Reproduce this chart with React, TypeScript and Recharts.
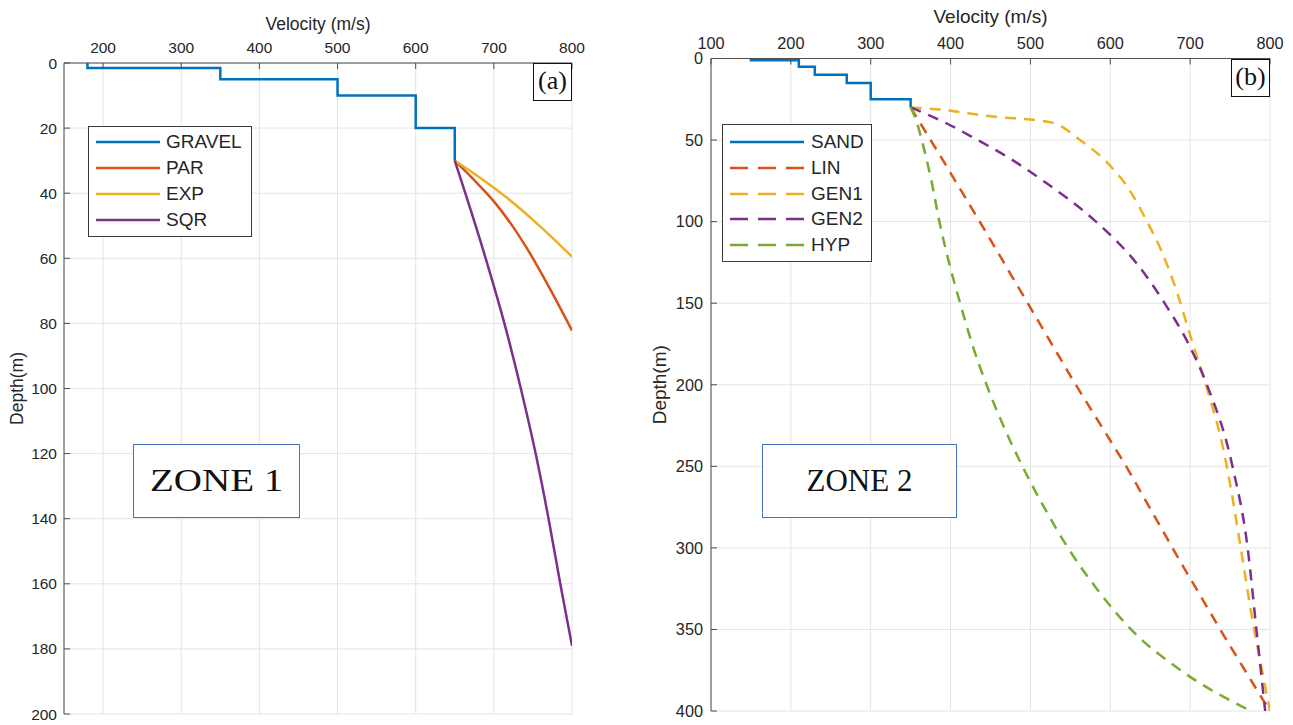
import React from 'react';
import { LineChart, Line, XAxis, YAxis, CartesianGrid, Legend } from 'recharts';

// ---- Zone 1 (a) ----
const gravelVel = [180, 350, 500, 600, 650, 650];
const gravelDepth = [0, 1.5, 5, 10, 20, 30];
const parVel = [650, 675, 700, 725, 750, 775, 800];
const parDepth = [30, 36, 42.5, 50.5, 60, 70.8, 82.2];
const expVel = [650, 675, 700, 725, 750, 775, 800];
const expDepth = [30, 34, 38.3, 43, 48.2, 53.7, 59.5];
const sqrVel = [650, 663.5, 689.5, 713.5, 734.5, 753.5, 770, 785, 800];
const sqrDepth = [30, 40, 60, 80, 100, 120, 140, 160, 179];

const zone1VelTicks = [200, 300, 400, 500, 600, 700, 800];
const zone1DepthTicks = [0, 20, 40, 60, 80, 100, 120, 140, 160, 180, 200];

// ---- Zone 2 (b) ----
const sandVel = [150, 210, 230, 270, 300, 350, 350];
const sandDepth = [0, 1, 5, 10, 15, 25, 30];
const linVel = [350, 390, 445, 499, 553, 620, 686, 740, 786, 800];
const linDepth = [30, 62, 107, 152, 197, 250, 307, 352, 389, 400];
const gen1Vel = [350, 386, 453, 515, 530, 561, 599, 624, 645, 665, 684, 699, 724, 740, 753, 761, 765, 778, 790, 800];
const gen1Depth = [30, 31.3, 35.6, 38.3, 39.6, 49.5, 65.3, 80.6, 99, 119, 144, 168, 207, 236, 269, 293, 305, 344, 375, 400];
const gen2Vel = [350, 396, 434, 470, 516, 582, 632, 668, 698, 721, 753, 772, 783, 794];
const gen2Depth = [30, 40, 50, 60, 75, 100, 125, 150, 175, 200, 250, 300, 350, 400];
const hypVel = [350, 357, 365, 376, 386, 398, 412, 427, 445, 466, 490, 517, 547, 583, 626, 688, 776];
const hypDepth = [30, 38, 52, 75, 100, 125, 150, 175, 200, 225, 250, 275, 300, 325, 350, 375, 400];

const zone2VelTicks = [100, 200, 300, 400, 500, 600, 700, 800];
const zone2DepthTicks = [0, 50, 100, 150, 200, 250, 300, 350, 400];

const SANS = '"Liberation Sans", Arial, sans-serif';
const SERIF = '"Liberation Serif", "Times New Roman", serif';
const AXIS = '#4d4d4d';
const TXT = '#262626';
const GRID = '#e4e4e4';

type Curve = 'linear' | 'monotone' | 'stepBefore';
interface Series {
  name: string;
  color: string;
  dashed?: boolean;
  curve: Curve;
  data: { v: number; d: number }[];
}

const pts = (vel: number[], depth: number[]) => vel.map((v, i) => ({ v, d: depth[i] }));

const zone1Series: Series[] = [
  { name: 'GRAVEL', color: '#0072BD', curve: 'stepBefore', data: pts(gravelVel, gravelDepth) },
  { name: 'PAR', color: '#D95319', curve: 'monotone', data: pts(parVel, parDepth) },
  { name: 'EXP', color: '#EDB120', curve: 'monotone', data: pts(expVel, expDepth) },
  { name: 'SQR', color: '#7E2F8E', curve: 'monotone', data: pts(sqrVel, sqrDepth) },
];

const zone2Series: Series[] = [
  { name: 'SAND', color: '#0072BD', curve: 'stepBefore', data: pts(sandVel, sandDepth) },
  { name: 'LIN', color: '#D95319', dashed: true, curve: 'linear', data: pts(linVel, linDepth) },
  { name: 'GEN1', color: '#EDB120', dashed: true, curve: 'monotone', data: pts(gen1Vel, gen1Depth) },
  { name: 'GEN2', color: '#7E2F8E', dashed: true, curve: 'monotone', data: pts(gen2Vel, gen2Depth) },
  { name: 'HYP', color: '#77AC30', dashed: true, curve: 'monotone', data: pts(hypVel, hypDepth) },
];

interface LegendBoxProps {
  series: Series[];
  width: number;
  lineLen: number;
  gap: number;
  padTop: number;
  rowH: number;
}

const LegendBox = ({ series, width, lineLen, gap, padTop, rowH }: LegendBoxProps) => (
  <div
    style={{
      width,
      boxSizing: 'border-box',
      border: '1px solid #3a3a3a',
      background: '#fff',
      paddingTop: padTop,
      paddingBottom: 3,
      fontFamily: SANS,
      fontSize: 19,
      color: TXT,
    }}
  >
    {series.map((s) => (
      <div key={s.name} style={{ display: 'flex', alignItems: 'center', height: rowH }}>
        <svg width={lineLen + 7} height={rowH} style={{ display: 'block' }}>
          <line
            x1={7}
            x2={7 + lineLen}
            y1={rowH / 2}
            y2={rowH / 2}
            stroke={s.color}
            strokeWidth={2.5}
            strokeDasharray={s.dashed ? '18 10' : undefined}
          />
        </svg>
        <span style={{ marginLeft: gap, lineHeight: `${rowH}px` }}>{s.name}</span>
      </div>
    ))}
  </div>
);

interface PanelProps {
  left: number;
  width: number;
  series: Series[];
  velDomain: [number, number];
  velTicks: number[];
  depthDomain: [number, number];
  depthTicks: number[];
  margin: { top: number; right: number; bottom: number; left: number };
  topH: number;
  leftW: number;
  tickFont: number;
  titleFont: number;
  xTitleOffset: number;
  yTitleOffset: number;
  yTickMargin: number;
  box: boolean;
  legend: { left: number; top: number } & LegendBoxProps;
}

const Panel = (p: PanelProps) => {
  const tickStyle = { fontSize: p.tickFont, fill: TXT, fontFamily: SANS };
  return (
    <LineChart
      width={p.width}
      height={725}
      margin={p.margin}
      style={{ position: 'absolute', left: p.left, top: 0 }}
    >
      <CartesianGrid stroke={GRID} strokeWidth={1} />
      <XAxis
        type="number"
        dataKey="v"
        orientation="top"
        domain={p.velDomain}
        ticks={p.velTicks}
        interval={0}
        allowDataOverflow
        height={p.topH}
        axisLine={{ stroke: AXIS }}
        tickLine={{ stroke: AXIS }}
        tickSize={-6}
        tickMargin={16}
        tick={tickStyle}
        label={{
          value: 'Velocity (m/s)',
          position: 'insideTop',
          offset: p.xTitleOffset,
          fontSize: p.titleFont,
          fill: TXT,
          fontFamily: SANS,
        }}
      />
      <YAxis
        type="number"
        reversed
        domain={p.depthDomain}
        ticks={p.depthTicks}
        interval={0}
        allowDataOverflow
        width={p.leftW}
        axisLine={{ stroke: AXIS }}
        tickLine={{ stroke: AXIS }}
        tickSize={-6}
        tickMargin={p.yTickMargin}
        tick={tickStyle}
        label={{
          value: 'Depth(m)',
          angle: -90,
          position: 'insideLeft',
          offset: p.yTitleOffset,
          fontSize: p.titleFont,
          fill: TXT,
          fontFamily: SANS,
          style: { textAnchor: 'middle' },
        }}
      />
      {p.box && (
        <XAxis
          xAxisId="box"
          type="number"
          orientation="bottom"
          domain={p.velDomain}
          ticks={p.velTicks}
          interval={0}
          height={0}
          axisLine={{ stroke: AXIS }}
          tickLine={{ stroke: AXIS }}
          tickSize={-6}
          tickFormatter={() => ''}
        />
      )}
      {p.box && (
        <YAxis
          yAxisId="box"
          type="number"
          orientation="right"
          reversed
          domain={p.depthDomain}
          ticks={p.depthTicks}
          interval={0}
          width={0}
          axisLine={{ stroke: AXIS }}
          tickLine={{ stroke: AXIS }}
          tickSize={-6}
          tickFormatter={() => ''}
        />
      )}
      {p.series.map((s) => (
        <Line
          key={s.name}
          name={s.name}
          data={s.data}
          dataKey="d"
          type={s.curve}
          stroke={s.color}
          strokeWidth={2.5}
          strokeDasharray={s.dashed ? '11 8' : undefined}
          dot={false}
          activeDot={false}
          isAnimationActive={false}
        />
      ))}
      <Legend
        layout="vertical"
        align="center"
        verticalAlign="middle"
        wrapperStyle={{ left: p.legend.left, top: p.legend.top, width: p.legend.width, height: 'auto' }}
        content={() => <LegendBox {...p.legend} />}
      />
    </LineChart>
  );
};

const tagBox = (left: number, top: number, w: number, h: number, text: string) => (
  <div
    style={{
      position: 'absolute',
      left,
      top,
      width: w,
      height: h,
      boxSizing: 'border-box',
      border: '1.5px solid #111',
      background: '#fff',
      fontFamily: SERIF,
      fontSize: 26,
      lineHeight: `${h - 4}px`,
      textAlign: 'center',
      color: '#111',
    }}
  >
    {text}
  </div>
);

const zoneBox = (left: number, top: number, w: number, h: number, text: string, size: number, stretch: number) => (
  <div
    style={{
      position: 'absolute',
      left,
      top,
      width: w,
      height: h,
      boxSizing: 'border-box',
      border: '1.5px solid #4a72b8',
      background: '#fff',
      fontFamily: SERIF,
      fontSize: size,
      lineHeight: `${h - 3}px`,
      textAlign: 'center',
      color: '#111',
    }}
  >
    <span style={{ display: 'inline-block', transform: `scaleX(${stretch})` }}>{text}</span>
  </div>
);

export default function App() {
  return (
    <div style={{ position: 'absolute', left: 0, top: 0, width: 1293, height: 725, background: '#fff' }}>
      <Panel
        left={0}
        width={600}
        series={zone1Series}
        velDomain={[150, 800]}
        velTicks={zone1VelTicks}
        depthDomain={[0, 200]}
        depthTicks={zone1DepthTicks}
        margin={{ top: 0, right: 28, bottom: 11, left: 0 }}
        topH={63}
        leftW={64}
        tickFont={15.5}
        titleFont={17.5}
        xTitleOffset={18}
        yTitleOffset={17}
        yTickMargin={13}
        box
        legend={{ left: 88, top: 126, series: zone1Series, width: 164, lineLen: 64, gap: 6, padTop: 2, rowH: 26 }}
      />
      <Panel
        left={640}
        width={653}
        series={zone2Series}
        velDomain={[100, 800]}
        velTicks={zone2VelTicks}
        depthDomain={[0, 400]}
        depthTicks={zone2DepthTicks}
        margin={{ top: 0, right: 23, bottom: 14, left: 0 }}
        topH={58.5}
        leftW={71}
        tickFont={16.3}
        titleFont={19}
        xTitleOffset={10}
        yTitleOffset={19}
        yTickMargin={14}
        box={false}
        legend={{ left: 82, top: 124, series: zone2Series, width: 150, lineLen: 74, gap: 7, padTop: 4, rowH: 25.75 }}
      />
      {tagBox(533, 63, 39, 38, '(a)')}
      {tagBox(1231, 59, 39, 38, '(b)')}
      {zoneBox(133, 444, 167, 74, 'ZONE 1', 32, 1.22)}
      {zoneBox(762, 444, 195, 74, 'ZONE 2', 31, 1)}
    </div>
  );
}
